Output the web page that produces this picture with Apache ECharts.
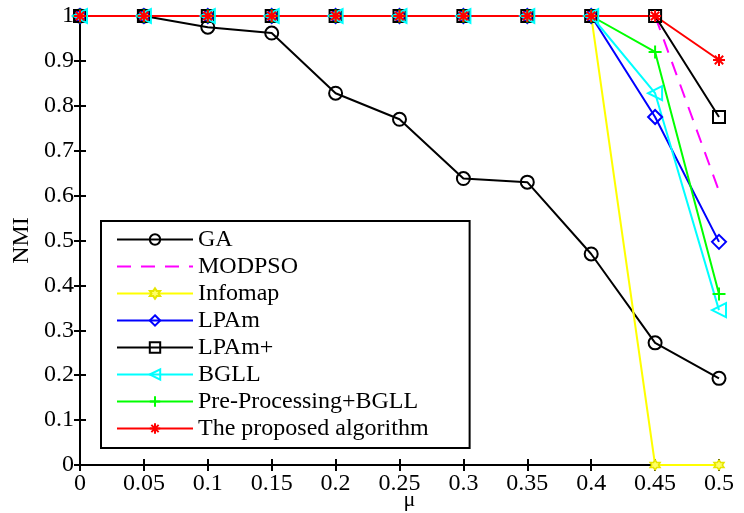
<!DOCTYPE html>
<html>
<head>
<meta charset="utf-8">
<script src="https://cdn.jsdelivr.net/npm/echarts@6/dist/echarts.min.js"></script>
<style>
html, body { margin: 0; padding: 0; background: #fff; }
#chart { width: 744px; height: 513px; }
</style>
</head>
<body>
<div id="chart"></div>
<script>
var mu = [0, 0.05, 0.1, 0.15, 0.2, 0.25, 0.3, 0.35, 0.4, 0.45, 0.5];
var xTicks = ['0', '0.05', '0.1', '0.15', '0.2', '0.25', '0.3', '0.35', '0.4', '0.45', '0.5'];
var yTicks = ['0', '0.1', '0.2', '0.3', '0.4', '0.5', '0.6', '0.7', '0.8', '0.9', '1'];

var gaVals = [1, 1, 0.975, 0.962, 0.828, 0.77, 0.638, 0.63, 0.47, 0.272, 0.193];
var modpsoVals = [1, 1, 1, 1, 1, 1, 1, 1, 1, 1, 0.61];
var infomapVals = [1, 1, 1, 1, 1, 1, 1, 1, 1, 0, 0];
var lpamVals = [1, 1, 1, 1, 1, 1, 1, 1, 1, 0.775, 0.497];
var lpamPlusVals = [1, 1, 1, 1, 1, 1, 1, 1, 1, 1, 0.775];
var bgllVals = [1, 1, 1, 1, 1, 1, 1, 1, 1, 0.828, 0.345];
var preBgllVals = [1, 1, 1, 1, 1, 1, 1, 1, 1, 0.92, 0.381];
var proposedVals = [1, 1, 1, 1, 1, 1, 1, 1, 1, 1, 0.902];

var seriesNames = ['GA', 'MODPSO', 'Infomap', 'LPAm', 'LPAm+', 'BGLL', 'Pre-Processing+BGLL', 'The proposed algorithm'];

var font = 'Liberation Serif';

function pairs(vals) {
	var out = [];
	for (var i = 0; i < mu.length; i++) out.push([mu[i], vals[i]]);
	return out;
}

// hollow markers like matlab
function mk(name, vals, color, symbol, size, opts) {
	var s = {
		name: name,
		type: 'line',
		data: pairs(vals),
		symbol: symbol,
		symbolSize: size,
		showSymbol: symbol !== 'none',
		clip: false,
		lineStyle: { color: color, width: 2 },
		itemStyle: { color: 'rgba(0,0,0,0)', borderColor: color, borderWidth: 2 },
		emphasis: { disabled: true }
	};
	for (var k in opts) s[k] = opts[k];
	return s;
}

var hexagram = 'path://M0,-10L2.9,-5L8.7,-5L5.8,0L8.7,5L2.9,5L0,10L-2.9,5L-8.7,5L-5.8,0L-8.7,-5L-2.9,-5Z';
var plusPath = 'path://M0,-10L0,10M-10,0L10,0';
var starPath = 'path://M0,-10L0,10M-10,0L10,0M-7,-7L7,7M-7,7L7,-7';

var tickStyle = { inside: true, length: 6, lineStyle: { color: '#000', width: 2 } };
var lineAx = { lineStyle: { color: '#000', width: 2 } };

var option = {
	animation: false,
	backgroundColor: '#fff',
	grid: { left: 80, right: 25, top: 16, bottom: 48, outerBoundsMode: 'none', containLabel: false },
	xAxis: [{
		type: 'value', min: 0, max: 0.5, interval: 0.05,
		name: 'μ', nameLocation: 'middle', nameGap: 24, nameMoveOverlap: false,
		nameTextStyle: { fontFamily: font, fontSize: 22, color: '#000', padding: [0, 0, 0, 20] },
		axisLine: lineAx,
		axisTick: tickStyle,
		axisLabel: {
			fontFamily: font, fontSize: 24, color: '#000', margin: 7,
			formatter: function(v) { return xTicks[Math.round(v / 0.05)]; }
		},
		splitLine: { show: false }
	}, {
		type: 'value', min: 0, max: 0.5, interval: 0.05, position: 'top',
		axisLine: lineAx,
		axisTick: tickStyle,
		axisLabel: { show: false },
		splitLine: { show: false }
	}],
	yAxis: [{
		type: 'value', min: 0, max: 1, interval: 0.1,
		name: 'NMI', nameLocation: 'middle', nameGap: 46, nameRotate: 90, nameMoveOverlap: false,
		nameTextStyle: { fontFamily: font, fontSize: 24, color: '#000' },
		axisLine: lineAx,
		axisTick: tickStyle,
		axisLabel: {
			fontFamily: font, fontSize: 24, color: '#000', margin: 6,
			formatter: function(v) { return yTicks[Math.round(v * 10)]; }
		},
		splitLine: { show: false }
	}, {
		type: 'value', min: 0, max: 1, interval: 0.1, position: 'right',
		axisLine: lineAx,
		axisTick: tickStyle,
		axisLabel: { show: false },
		splitLine: { show: false }
	}],
	legend: {
		orient: 'vertical',
		left: 101, top: 221,
		data: seriesNames,
		itemWidth: 76, itemHeight: 13, itemGap: 0,
		padding: [5, 41, 6, 15],
		borderColor: '#000', borderWidth: 2, backgroundColor: '#fff',
		textStyle: { fontFamily: font, fontSize: 24, color: '#000', lineHeight: 27 }
	},
	series: [
		mk(seriesNames[0], gaVals, '#000', 'circle', 13),
		mk(seriesNames[1], modpsoVals, '#ff00ff', 'none', 1, {
			lineStyle: { color: '#ff00ff', width: 2, type: [14, 10] },
			itemStyle: { color: 'rgba(0,0,0,0)', borderWidth: 0 }
		}),
		mk(seriesNames[2], infomapVals, '#ffff00', hexagram, 10, {
			itemStyle: { color: '#ffff66', borderColor: '#e6e600', borderWidth: 1.5 }
		}),
		mk(seriesNames[3], lpamVals, '#0000ff', 'diamond', 14),
		mk(seriesNames[4], lpamPlusVals, '#000', 'rect', 12),
		mk(seriesNames[5], bgllVals, '#00ffff', 'triangle', 14, { symbolRotate: 90 }),
		mk(seriesNames[6], preBgllVals, '#00ff00', plusPath, 13),
		mk(seriesNames[7], proposedVals, '#ff0000', starPath, 12)
	]
};

echarts.init(document.getElementById('chart')).setOption(option);
</script>
</body>
</html>
